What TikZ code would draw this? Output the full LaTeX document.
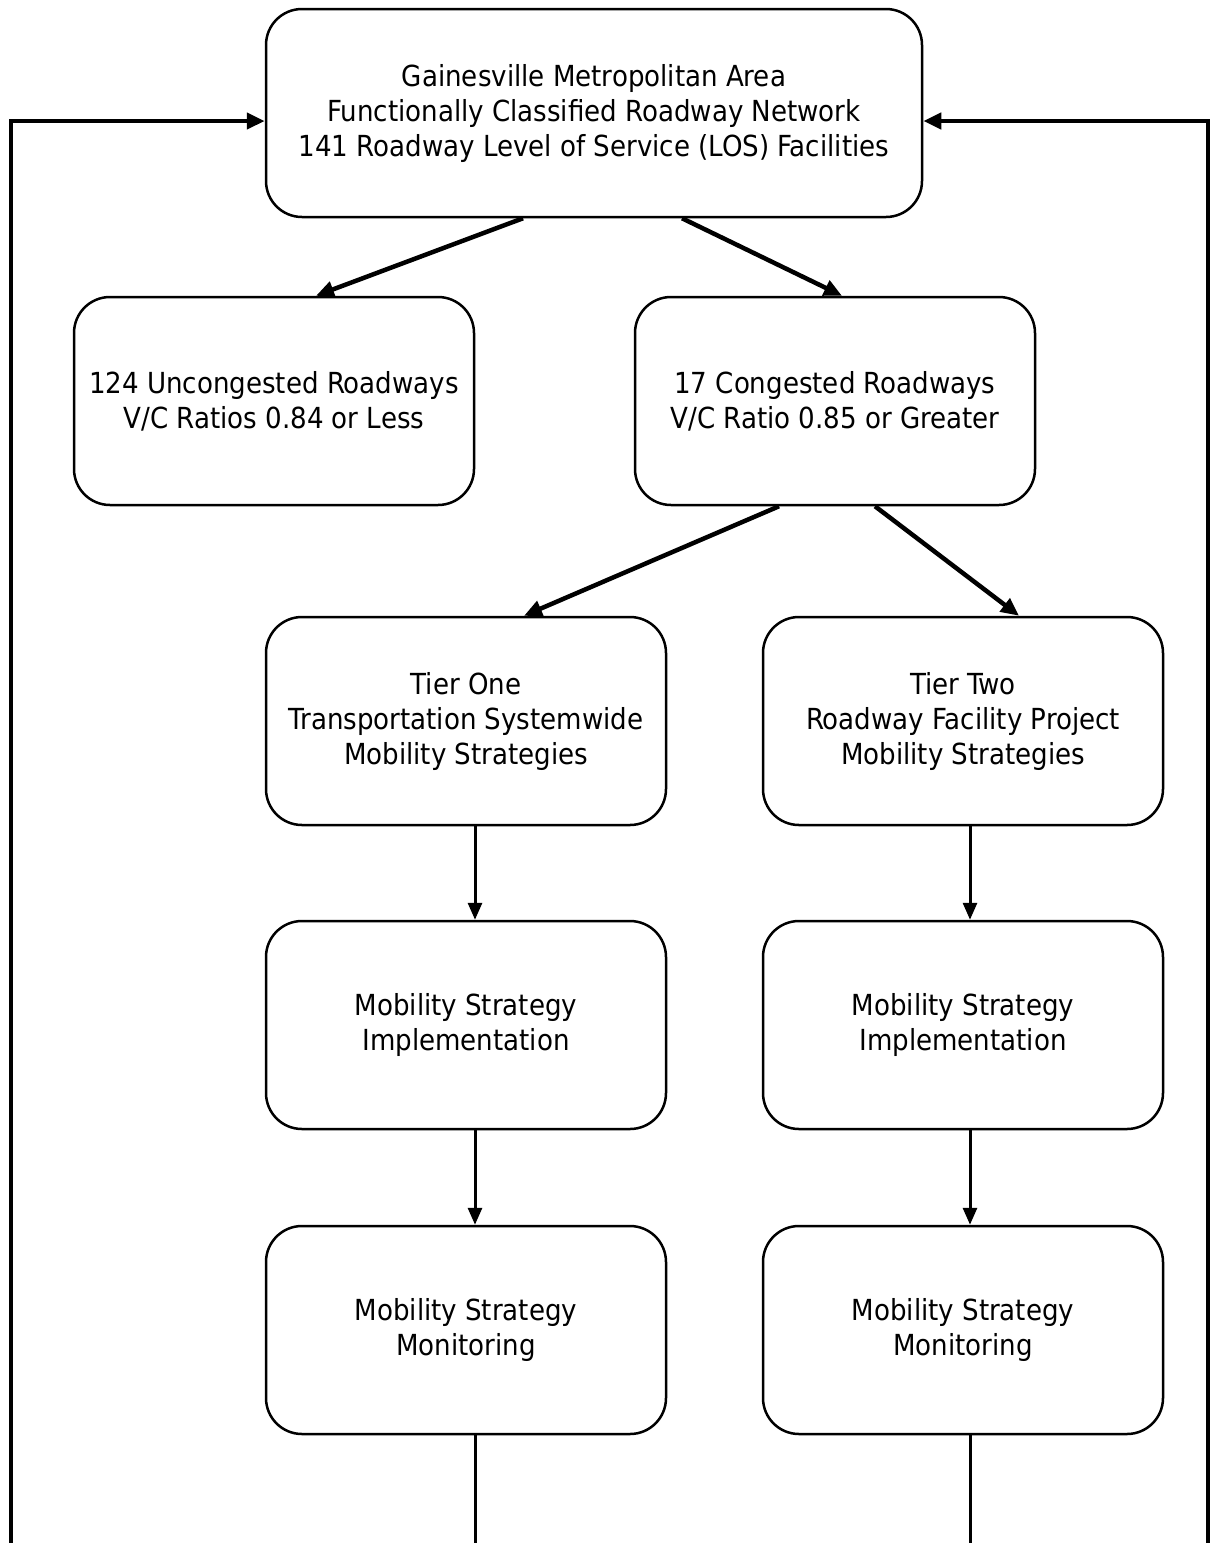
\documentclass[tikz,border=0pt]{standalone}
\usepackage{fontspec}
\setmainfont{DejaVu Sans Condensed}
\usetikzlibrary{arrows.meta}
\begin{document}
\begin{tikzpicture}[x=1pt, y=-1pt,
    every node/.style = {align=center, font=\fontsize{29}{35}\selectfont},
    stage/.style = {draw, line width=2.5pt, rounded corners=36pt,
        minimum width=400pt, minimum height=208pt, inner sep=0pt},
    flow/.style = {-{Triangle[length=18pt,width=16pt]}, line width=4.5pt},
    drop/.style = {-{Triangle[length=17pt,width=14pt]}, line width=3pt}
    ]
    \useasboundingbox (0,0) rectangle (1210,1543);
    % top of the network
    \node[stage, minimum width=656pt] (network) at (594,113)
        {Gainesville Metropolitan Area\\
         Functionally Classified Roadway Network\\
         141 Roadway Level of Service (LOS) Facilities};
    \node[stage] (uncongested) at (274,401)
        {124 Uncongested Roadways\\V/C Ratios 0.84 or Less};
    \node[stage] (congested) at (835,401)
        {17 Congested Roadways\\V/C Ratio 0.85 or Greater};
    % tier one column
    \node[stage] (tierone) at (466,721)
        {Tier One\\Transportation Systemwide\\Mobility Strategies};
    \node[stage] (implone) at (466,1025)
        {Mobility Strategy\\Implementation};
    \node[stage] (monone) at (466,1330)
        {Mobility Strategy\\Monitoring};
    % tier two column
    \node[stage] (tiertwo) at (963,721)
        {Tier Two\\Roadway Facility Project\\Mobility Strategies};
    \node[stage] (impltwo) at (963,1025)
        {Mobility Strategy\\Implementation};
    \node[stage] (montwo) at (963,1330)
        {Mobility Strategy\\Monitoring};

    \draw[flow] ([xshift=-71pt]network.south) -- ([xshift=42pt]uncongested.north);
    \draw[flow] ([xshift=88pt]network.south) -- ([xshift=7pt]congested.north);
    \draw[flow] ([xshift=-56pt]congested.south) -- ([xshift=58pt]tierone.north);
    \draw[flow] ([xshift=40pt]congested.south) -- ([xshift=56pt]tiertwo.north);

    \draw[drop] ([xshift=9pt]tierone.south) -- ([xshift=9pt]implone.north);
    \draw[drop] ([xshift=9pt]implone.south) -- ([xshift=9pt]monone.north);
    \draw[drop] ([xshift=7pt]tiertwo.south) -- ([xshift=7pt]impltwo.north);
    \draw[drop] ([xshift=7pt]impltwo.south) -- ([xshift=7pt]montwo.north);

    % lines running off the bottom
    \coordinate (endone) at (475,1543);
    \coordinate (endtwo) at (970,1543);
    \draw[line width=3pt] ([xshift=9pt]monone.south) -- (endone);
    \draw[line width=3pt] ([xshift=7pt]montwo.south) -- (endtwo);

    % feedback loops
    \coordinate (loopleft) at (11,1543);
    \coordinate (loopright) at (1208,1543);
    \draw[flow] (loopleft) |- ([yshift=-8pt]network.west);
    \draw[flow] (loopright) |- ([yshift=-8pt]network.east);
\end{tikzpicture}
\end{document}
